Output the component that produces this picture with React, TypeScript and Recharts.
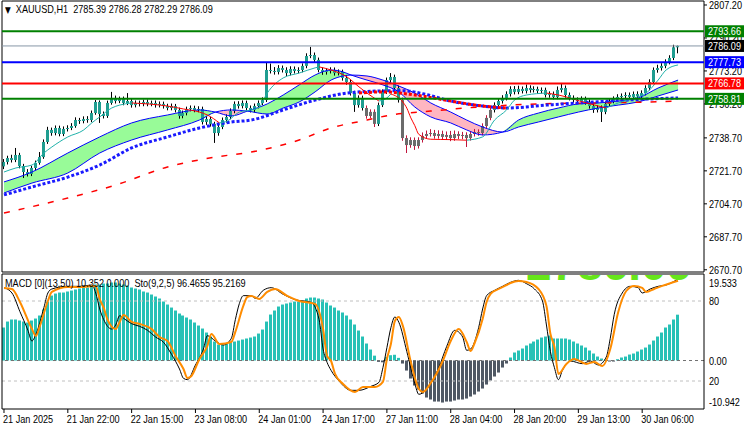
import React from 'react';
import { ComposedChart, Bar, Line, Area, XAxis, YAxis, ReferenceLine } from 'recharts';

const FONT = "'Liberation Sans', Arial, sans-serif";
const SQUEEZE = 0.83;
const SLOTS = 176;

// ---------- header / legend values ----------
const symbolName = 'XAUUSD,H1';
const headerOHLC = [2785.39, 2786.28, 2782.29, 2786.09];
const macdName = 'MACD [0](13,50)';
const macdValues = ['10.352', '0.000'];
const stoName = 'Sto(9,2,5)';
const stoValues = ['96.4655', '95.2169'];
const bidWatermark = '2786.09';

// ---------- price candles (H1) ----------
const opens = [
  2724.0, 2726.3, 2728.3, 2727.3, 2729.9, 2724.2, 2721.1, 2720.1, 2723.2, 2725.8,
  2728.8, 2736.6, 2742.8, 2741.2, 2743.8, 2740.7, 2743.3, 2743.8, 2744.8, 2747.9,
  2747.4, 2748.4, 2747.9, 2751.5, 2757.2, 2751.0, 2750.0, 2756.7, 2759.3, 2757.7,
  2758.7, 2756.7, 2757.7, 2755.6, 2756.7, 2756.2, 2757.2, 2756.2, 2756.7, 2755.6,
  2756.2, 2755.1, 2754.1, 2755.1, 2753.1, 2750.0, 2751.5, 2753.6, 2754.1, 2753.1,
  2753.6, 2746.9, 2748.4, 2745.9, 2741.2, 2744.3, 2747.9, 2749.5, 2752.6, 2756.2,
  2755.1, 2756.7, 2754.1, 2753.1, 2755.1, 2756.7, 2758.2, 2773.7, 2773.2, 2772.7,
  2774.7, 2773.7, 2772.1, 2774.2, 2773.2, 2773.7, 2775.8, 2780.9, 2781.4, 2778.9,
  2773.7, 2772.7, 2773.2, 2773.7, 2772.1, 2772.7, 2769.6, 2767.5, 2761.8, 2755.6,
  2759.3, 2754.1, 2750.0, 2752.1, 2745.9, 2755.6, 2762.4, 2768.5, 2770.1, 2764.4,
  2758.2, 2738.6, 2735.0, 2737.6, 2734.5, 2737.6, 2739.7, 2740.7, 2741.2, 2739.7,
  2740.7, 2739.2, 2740.2, 2738.6, 2740.7, 2739.7, 2740.2, 2738.6, 2740.7, 2741.7,
  2741.2, 2744.8, 2749.0, 2753.1, 2755.6, 2757.7, 2759.3, 2761.3, 2763.9, 2762.4,
  2763.9, 2762.9, 2764.4, 2763.4, 2763.9, 2762.9, 2763.4, 2760.8, 2761.3, 2759.8,
  2763.4, 2764.4, 2760.8, 2759.3, 2758.2, 2757.7, 2758.7, 2757.2, 2755.1, 2753.1,
  2754.1, 2752.1, 2756.2, 2757.7, 2758.7, 2759.8, 2760.3, 2760.8, 2759.8, 2761.3,
  2760.3, 2761.8, 2764.4, 2767.5, 2773.7, 2774.7, 2775.8, 2777.8, 2779.9, 2785.39,
];
const highs = [
  2727.8, 2729.5, 2730.0, 2733.5, 2731.0, 2725.3, 2722.6, 2724.3, 2727.0, 2731.4,
  2737.9, 2744.4, 2744.0, 2745.1, 2745.0, 2744.6, 2745.2, 2746.3, 2749.3, 2749.0,
  2749.8, 2749.9, 2752.8, 2758.2, 2758.0, 2752.3, 2757.9, 2762.4, 2760.5, 2760.0,
  2760.0, 2761.8, 2758.9, 2758.0, 2757.9, 2758.4, 2758.5, 2757.9, 2758.0, 2757.5,
  2757.4, 2756.3, 2756.4, 2756.2, 2754.3, 2752.8, 2754.8, 2755.4, 2755.3, 2755.0,
  2754.8, 2749.8, 2749.6, 2747.0, 2745.6, 2749.2, 2750.8, 2753.9, 2757.5, 2757.6,
  2758.0, 2757.9, 2755.4, 2756.4, 2758.0, 2759.6, 2777.3, 2777.0, 2775.2, 2776.2,
  2776.0, 2775.1, 2775.6, 2775.5, 2775.1, 2777.1, 2782.3, 2785.6, 2782.7, 2780.1,
  2775.0, 2774.6, 2775.1, 2775.0, 2774.0, 2773.9, 2771.0, 2768.8, 2763.0, 2760.6,
  2760.5, 2755.4, 2753.4, 2753.4, 2756.9, 2763.7, 2769.8, 2772.1, 2771.3, 2765.7,
  2759.5, 2740.0, 2739.0, 2738.9, 2739.0, 2741.5, 2742.5, 2743.2, 2742.8, 2742.6,
  2742.4, 2742.0, 2742.3, 2742.5, 2742.1, 2741.8, 2741.6, 2742.2, 2743.3, 2743.1,
  2746.2, 2750.4, 2754.4, 2757.0, 2759.0, 2760.7, 2762.7, 2765.3, 2765.4, 2765.6,
  2765.2, 2766.2, 2765.8, 2765.3, 2765.1, 2764.7, 2764.6, 2762.7, 2762.6, 2765.2,
  2767.0, 2765.7, 2762.1, 2760.6, 2759.6, 2760.1, 2760.0, 2758.5, 2756.4, 2755.5,
  2755.4, 2757.5, 2759.0, 2760.1, 2761.2, 2761.6, 2762.2, 2762.1, 2762.6, 2762.7,
  2763.2, 2765.8, 2768.9, 2775.0, 2776.4, 2777.2, 2779.2, 2781.3, 2786.7, 2786.28,
];
const lows = [
  2722.6, 2725.0, 2726.0, 2726.2, 2723.0, 2718.0, 2718.8, 2719.0, 2722.0, 2724.9,
  2727.9, 2735.6, 2739.8, 2740.0, 2739.5, 2739.6, 2742.0, 2742.7, 2743.9, 2745.9,
  2746.2, 2746.5, 2746.8, 2750.6, 2746.4, 2748.7, 2749.0, 2755.8, 2756.4, 2756.6,
  2755.5, 2755.6, 2754.3, 2754.4, 2754.9, 2755.0, 2755.0, 2755.0, 2754.3, 2754.4,
  2753.8, 2752.9, 2752.9, 2751.8, 2748.6, 2748.8, 2750.3, 2752.4, 2751.9, 2751.9,
  2745.6, 2745.4, 2744.5, 2736.1, 2739.8, 2743.2, 2746.6, 2748.3, 2751.4, 2753.8,
  2753.9, 2752.8, 2751.8, 2751.9, 2753.9, 2755.5, 2757.2, 2771.9, 2771.3, 2771.4,
  2772.4, 2770.6, 2770.9, 2771.9, 2772.0, 2772.5, 2774.6, 2779.8, 2777.6, 2772.5,
  2771.2, 2771.3, 2771.9, 2770.8, 2770.9, 2768.2, 2766.1, 2760.5, 2752.1, 2754.3,
  2752.8, 2748.6, 2748.8, 2744.3, 2744.8, 2754.6, 2761.3, 2767.2, 2763.1, 2756.9,
  2737.2, 2730.9, 2733.6, 2732.5, 2733.2, 2736.3, 2738.3, 2739.4, 2738.3, 2738.3,
  2737.8, 2737.6, 2737.0, 2737.2, 2738.1, 2738.0, 2734.0, 2737.3, 2739.4, 2739.8,
  2740.0, 2743.6, 2747.8, 2751.8, 2754.3, 2756.4, 2758.0, 2760.0, 2761.1, 2761.2,
  2761.6, 2761.6, 2762.0, 2762.1, 2761.5, 2761.6, 2759.5, 2759.4, 2758.5, 2758.6,
  2762.1, 2759.4, 2758.0, 2756.9, 2756.3, 2756.5, 2755.8, 2753.8, 2751.6, 2751.8,
  2746.9, 2750.9, 2754.9, 2756.5, 2757.4, 2758.6, 2759.0, 2758.5, 2758.6, 2759.0,
  2759.1, 2760.6, 2763.2, 2766.4, 2772.3, 2773.4, 2774.6, 2776.6, 2778.8, 2782.29,
];
const closes = [
  2726.3, 2728.3, 2727.3, 2729.9, 2724.2, 2721.1, 2720.1, 2723.2, 2725.8, 2728.8,
  2736.6, 2742.8, 2741.2, 2743.8, 2740.7, 2743.3, 2743.8, 2744.8, 2747.9, 2747.4,
  2748.4, 2747.9, 2751.5, 2757.2, 2751.0, 2750.0, 2756.7, 2759.3, 2757.7, 2758.7,
  2756.7, 2757.7, 2755.6, 2756.7, 2756.2, 2757.2, 2756.2, 2756.7, 2755.6, 2756.2,
  2755.1, 2754.1, 2755.1, 2753.1, 2750.0, 2751.5, 2753.6, 2754.1, 2753.1, 2753.6,
  2746.9, 2748.4, 2745.9, 2741.2, 2744.3, 2747.9, 2749.5, 2752.6, 2756.2, 2755.1,
  2756.7, 2754.1, 2753.1, 2755.1, 2756.7, 2758.2, 2773.7, 2773.2, 2772.7, 2774.7,
  2773.7, 2772.1, 2774.2, 2773.2, 2773.7, 2775.8, 2780.9, 2781.4, 2778.9, 2773.7,
  2772.7, 2773.2, 2773.7, 2772.1, 2772.7, 2769.6, 2767.5, 2761.8, 2755.6, 2759.3,
  2754.1, 2750.0, 2752.1, 2745.9, 2755.6, 2762.4, 2768.5, 2770.1, 2764.4, 2758.2,
  2738.6, 2735.0, 2737.6, 2734.5, 2737.6, 2739.7, 2740.7, 2741.2, 2739.7, 2740.7,
  2739.2, 2740.2, 2738.6, 2740.7, 2739.7, 2740.2, 2738.6, 2740.7, 2741.7, 2741.2,
  2744.8, 2749.0, 2753.1, 2755.6, 2757.7, 2759.3, 2761.3, 2763.9, 2762.4, 2763.9,
  2762.9, 2764.4, 2763.4, 2763.9, 2762.9, 2763.4, 2760.8, 2761.3, 2759.8, 2763.4,
  2764.4, 2760.8, 2759.3, 2758.2, 2757.7, 2758.7, 2757.2, 2755.1, 2753.1, 2754.1,
  2752.1, 2756.2, 2757.7, 2758.7, 2759.8, 2760.3, 2760.8, 2759.8, 2761.3, 2760.3,
  2761.8, 2764.4, 2767.5, 2773.7, 2774.7, 2775.8, 2777.8, 2779.9, 2785.39, 2786.09,
];

// ---------- moving averages [barIndex, price] ----------
const fastMaPts = [
  [0, 2721.1], [3, 2723.2], [7, 2724.7], [10, 2730.9], [12, 2734.0], [16, 2739.2], [20, 2742.8],
  [22, 2746.4], [24, 2749.5], [27, 2754.1], [29, 2755.6], [32, 2756.7], [41, 2755.1], [45, 2753.6],
  [49, 2752.0], [51, 2750.5], [54, 2746.4], [56, 2747.4], [59, 2752.0], [62, 2753.1], [64, 2754.6],
  [66, 2761.8], [70, 2769.6], [74, 2772.1], [78, 2774.8], [79, 2775.3], [82, 2773.7], [86, 2770.1],
  [89, 2765.0], [91, 2761.8], [94, 2757.7], [96, 2759.3], [97, 2761.3], [100, 2757.2], [101, 2754.0],
  [102, 2749.0], [103, 2745.0], [104, 2740.5], [107, 2738.0], [112, 2737.8], [116, 2737.5],
  [120, 2739.2], [123, 2747.9], [126, 2753.1], [128, 2758.2], [131, 2760.8], [136, 2761.8],
  [139, 2760.8], [146, 2756.7], [151, 2754.1], [154, 2756.7], [158, 2759.3], [161, 2761.8],
  [164, 2768.5], [166, 2773.7], [169, 2776.3],
];
// [barIndex, fast ribbon line, slow ribbon line]
const ribbonPts = [
  [0, 2716.0, 2710.3], [7, 2721.1, 2715.4], [16, 2730.9, 2720.6], [24, 2739.2, 2730.9],
  [32, 2746.4, 2737.6], [41, 2750.5, 2742.8], [49, 2753.1, 2747.9], [53, 2752.0, 2752.0],
  [57, 2750.0, 2753.1], [61, 2752.5, 2752.5], [66, 2756.2, 2751.0], [70, 2760.8, 2754.1],
  [74, 2766.0, 2757.2], [78, 2771.1, 2762.4], [82, 2773.7, 2768.5], [85, 2772.7, 2770.6],
  [87, 2771.1, 2771.1], [91, 2768.5, 2770.6], [95, 2766.0, 2768.5], [99, 2762.4, 2765.4],
  [103, 2754.6, 2761.8], [107, 2749.5, 2756.7], [112, 2746.4, 2752.0], [116, 2742.8, 2747.9],
  [120, 2740.2, 2744.3], [125, 2741.7, 2741.7], [129, 2747.9, 2744.3], [134, 2751.5, 2746.9],
  [139, 2754.1, 2749.5], [144, 2756.2, 2752.0], [149, 2756.7, 2754.1], [154, 2757.7, 2755.6],
  [159, 2759.3, 2757.2], [164, 2764.4, 2760.3], [169, 2768.5, 2763.4],
];
const blueDotPts = [
  [0, 2709.3], [7, 2713.4], [16, 2718.5], [24, 2724.7], [32, 2733.5], [41, 2739.2], [49, 2743.8],
  [57, 2746.9], [62, 2747.9], [70, 2753.1], [78, 2758.2], [86, 2761.8], [95, 2762.9], [100, 2763.0],
  [106, 2761.0], [112, 2757.7], [120, 2755.1], [126, 2754.1], [136, 2755.6], [144, 2756.7],
  [152, 2757.7], [161, 2758.7], [169, 2759.3],
];
const redDotPts = [[89, 2761.8], [95, 2762.4], [103, 2760.8], [112, 2757.7], [120, 2755.1], [126, 2754.1]];
const longMaPts = [
  [0, 2700.0], [16, 2707.7], [28, 2714.4], [41, 2723.7], [53, 2728.8], [62, 2731.4], [74, 2737.6],
  [82, 2743.8], [91, 2747.9], [97, 2750.5], [107, 2752.5], [119, 2754.6], [134, 2756.2],
  [149, 2756.7], [162, 2757.2], [169, 2757.7],
];

// ---------- horizontal levels ----------
const levelValues = [2793.66, 2786.09, 2777.73, 2766.78, 2758.81];

// ---------- MACD histogram ----------
const macdHist = [
  7.45, 8.80, 9.26, 9.26, 9.03, 8.80, 8.58, 9.03, 9.48, 10.16,
  11.51, 13.32, 14.67, 15.12, 15.35, 15.35, 15.58, 15.80, 16.03, 16.25,
  16.48, 16.48, 16.70, 17.16, 17.16, 17.38, 17.38, 17.61, 17.61, 17.38,
  17.16, 16.93, 16.48, 16.25, 16.03, 15.58, 15.35, 14.90, 14.45, 14.00,
  13.32, 12.64, 11.96, 11.29, 10.61, 10.16, 9.71, 9.26, 8.58, 7.90,
  7.22, 6.32, 5.42, 4.29, 3.61, 3.61, 3.84, 4.06, 4.29, 4.51,
  4.74, 4.97, 5.19, 5.42, 6.09, 7.00, 8.80, 10.38, 11.29, 12.19,
  12.64, 12.87, 13.09, 13.32, 13.32, 13.54, 14.00, 14.22, 14.22, 14.00,
  13.77, 13.09, 12.42, 11.96, 11.29, 10.84, 10.16, 9.26, 8.13, 6.77,
  5.42, 3.84, 2.48, 1.10, -0.30, -0.40, 0.80, 1.20, 1.30, 0.60,
  -0.68, -2.26, -4.06, -5.64, -6.55, -7.45, -8.35, -8.80, -9.26, -9.26,
  -9.48, -9.26, -9.26, -9.03, -8.80, -8.80, -8.58, -8.13, -7.67, -7.00,
  -6.32, -5.42, -4.51, -3.61, -2.71, -1.58, -0.68, 0.68, 1.81, 2.26,
  2.71, 3.39, 3.84, 4.29, 4.74, 5.19, 5.42, 5.64, 4.97, 4.97,
  4.97, 4.97, 4.74, 4.29, 3.84, 3.39, 2.93, 2.26, 1.58, 0.90,
  0.45, 0.20, -0.20, -0.20, 0.30, 0.68, 0.90, 1.35, 1.58, 2.03,
  2.48, 2.93, 3.61, 4.51, 5.42, 6.32, 7.45, 8.13, 9.26, 10.35,
];
const macdDomain = [-10.942, 19.533];

// ---------- Stochastic [barIndex, value] ----------
const stoMainPts = [
  [0, 90], [2, 86], [4, 72], [6, 58], [7, 50], [8, 55], [10, 75], [11, 86], [12, 89], [16, 91],
  [19, 91], [22, 92], [23, 86], [24, 74], [25, 66], [27, 59], [28, 62], [29, 69], [30, 67], [32, 63],
  [34, 61], [36, 58], [38, 53], [40, 49], [42, 40], [44, 29], [45, 22], [46, 21], [48, 32], [50, 44],
  [51, 54], [53, 50], [55, 47], [57, 52], [58, 66], [59, 78], [60, 84], [62, 84], [63, 82], [65, 88],
  [67, 90], [70, 85], [73, 81], [77, 79], [79, 66], [80, 44], [81, 34], [82, 28], [84, 20], [87, 13],
  [89, 13], [92, 16], [94, 19], [95, 30], [96, 45], [97, 60], [98, 68], [99, 64], [101, 42], [103, 18],
  [104, 10], [106, 14], [109, 30], [111, 46], [113, 58], [115, 53], [116, 43], [117, 44], [119, 60],
  [120, 74], [121, 84], [123, 88], [125, 91], [127, 94], [129, 95.5], [131, 93], [133, 89], [135, 80],
  [136, 62], [137, 42], [138, 30], [139, 21], [140, 28], [142, 35], [145, 33], [147, 35], [149, 32],
  [151, 38], [152, 52], [153, 70], [155, 86], [157, 91], [159, 90], [160, 86], [162, 89], [164, 91],
  [166, 92], [169, 96.5],
];
const stoSignalPts = [
  [0, 89.8], [2, 89], [4, 79.3], [7, 59], [8, 53.8], [9, 61.3], [11, 80], [12, 86.8], [16, 90.5],
  [19, 90.5], [23, 91.3], [24, 81.5], [25, 74.8], [26, 65.8], [28, 59], [29, 64.3], [30, 69.5],
  [32, 64.3], [34, 62.8], [37, 59], [39, 53], [41, 50], [43, 38.8], [45, 29], [46, 22.3], [47, 23.8],
  [49, 36.5], [51, 46.3], [52, 55.3], [54, 47.8], [57, 49.3], [58, 56.8], [60, 76.3], [61, 83],
  [62, 83.8], [64, 81.5], [66, 86.8], [68, 89], [71, 83.8], [74, 80], [78, 77.8], [80, 59], [81, 38.8],
  [82, 35], [83, 25.3], [85, 17.8], [88, 11.8], [90, 15.5], [93, 15.5], [95, 19.3], [96, 36.5],
  [97, 47.8], [98, 65], [99, 68], [100, 61.3], [102, 34.3], [104, 14], [105, 11.8], [107, 18.5],
  [110, 35], [112, 50], [114, 59], [116, 49.3], [117, 42.5], [118, 48.5], [120, 66.5], [121, 79.3],
  [122, 85.3], [124, 89], [126, 92], [127, 93.5], [129, 95], [131, 94.3], [134, 89], [136, 76.3],
  [137, 55.3], [138, 45.5], [139, 25.3], [141, 32.8], [143, 36.5], [146, 32.8], [148, 34.3],
  [150, 31.3], [152, 44], [154, 71.8], [156, 87.5], [158, 91.3], [160, 89.8], [161, 86.8], [163, 89],
  [165, 91.3], [169, 95.2],
];
const stoLevels = [80, 20];

// ---------- axes ----------
const priceTicks = [2807.2, 2790.2, 2773.2, 2756.2, 2738.7, 2721.7, 2704.7, 2687.7, 2670.7];
const priceDomain = [2669.56, 2809.26];
const xLabels = [
  '21 Jan 2025', '21 Jan 22:00', '22 Jan 15:00', '23 Jan 08:00', '24 Jan 01:00', '24 Jan 17:00',
  '27 Jan 11:00', '28 Jan 04:00', '28 Jan 20:00', '29 Jan 13:00', '30 Jan 06:00',
];
const X_LABEL_STEP = 16;

// ---------- styles ----------
const levelLineColors = ['#008000', '#8796a6', '#0000ff', '#ff0000', '#008000'];
const levelTagColors = ['#008000', '#000000', '#0000ff', '#ff0000', '#008000'];
const levelLineWidths = [2, 1, 2, 2, 2];
const grayCandleRanges = [[91, 93], [100, 122]];
const BULL = '#1f9d90';
const BEAR = '#6b6b6b';
const HIST_UP = '#27c1b6';
const HIST_DN = '#4f5864';
const RIB_UP = '#98fb98';
const RIB_DN = '#ffb6c1';

// ---------- build table ----------
const rows: any[] = Array.from({ length: SLOTS }, (_, i) => ({ i }));
closes.forEach((c, i) => {
  rows[i].candle = [lows[i], highs[i]];
  rows[i].o = opens[i];
  rows[i].h = highs[i];
  rows[i].l = lows[i];
  rows[i].c = c;
  rows[i].macd = macdHist[i];
});
const put = (pts: number[][], key: string) => pts.forEach((p) => (rows[p[0]][key] = p[1]));
put(blueDotPts, 'blueDot');
put(redDotPts, 'redDot');
put(longMaPts, 'longMa');
put(stoMainPts, 'stoMain');
put(stoSignalPts, 'stoSig');
ribbonPts.forEach((p) => {
  rows[p[0]].ribA = p[1];
  rows[p[0]].ribB = p[2];
});

type Seg = { key: string; color: string };
const fastSegs: Seg[] = [];
{
  let k = 0;
  while (k < fastMaPts.length - 1) {
    const up = fastMaPts[k + 1][1] >= fastMaPts[k][1];
    let e = k + 1;
    while (e < fastMaPts.length - 1 && (fastMaPts[e + 1][1] >= fastMaPts[e][1]) === up) e++;
    const key = 'fast' + fastSegs.length;
    for (let m = k; m <= e; m++) rows[fastMaPts[m][0]][key] = fastMaPts[m][1];
    fastSegs.push({ key, color: up ? '#20b2aa' : '#ff0000' });
    k = e;
  }
}
const ribSegs: Seg[] = [];
{
  const sgn = (m: number) => ribbonPts[m][1] + ribbonPts[m + 1][1] >= ribbonPts[m][2] + ribbonPts[m + 1][2];
  let k = 0;
  while (k < ribbonPts.length - 1) {
    const s = sgn(k);
    let e = k + 1;
    while (e < ribbonPts.length - 1 && sgn(e) === s) e++;
    const key = 'rib' + ribSegs.length;
    for (let m = k; m <= e; m++) rows[ribbonPts[m][0]][key] = [ribbonPts[m][2], ribbonPts[m][1]];
    ribSegs.push({ key, color: s ? RIB_UP : RIB_DN });
    k = e;
  }
}

const isGray = (i: number) => grayCandleRanges.some(([a, b]) => i >= a && i <= b);

// ---------- text helper (narrow terminal-like lettering) ----------
const T = ({ x, y, fill = '#000', children }: any) => (
  <text transform={`translate(${x},${y}) scale(${SQUEEZE},1)`} fill={fill} fontSize={11} fontFamily={FONT}>
    {children}
  </text>
);

// ---------- shapes ----------
const CandleShape = (p: any) => {
  const { x, y, width, height, payload } = p;
  if (!payload || payload.h == null) return null;
  const top = Math.min(y, y + height);
  const hh = Math.abs(height);
  const span = payload.h - payload.l || 1;
  const toY = (v: number) => top + ((payload.h - v) / span) * hh;
  const cx = Math.floor(x + width / 2);
  const y1 = Math.min(toY(payload.o), toY(payload.c));
  const y2 = Math.max(toY(payload.o), toY(payload.c));
  const gray = isGray(payload.i);
  return (
    <g>
      <line x1={cx + 0.5} x2={cx + 0.5} y1={top} y2={top + hh} stroke={gray ? '#c0143c' : '#000'} strokeWidth={1} />
      <rect x={cx - 1} y={y1} width={3} height={Math.max(1, y2 - y1)} fill={gray ? BEAR : BULL} />
    </g>
  );
};

const HistShape = (p: any) => {
  const { x, y, width, height, payload } = p;
  if (!payload || payload.macd == null) return null;
  const top = Math.min(y, y + height);
  const hh = Math.max(1, Math.abs(height));
  const cx = Math.floor(x + width / 2);
  return <rect x={cx - 1} y={top} width={3} height={hh} fill={payload.macd >= 0 ? HIST_UP : HIST_DN} />;
};

const LevelTag = (props: any) => {
  const vb = props.viewBox || {};
  const lx = (vb.x || 0) + (vb.width || 0) + 1;
  const ly = vb.y || 0;
  return (
    <g>
      <rect x={lx} y={ly - 6} width={39} height={12} fill={props.bg} />
      <T x={lx + 3} y={ly + 4} fill="#fff">
        {props.value.toFixed(2)}
      </T>
    </g>
  );
};

const SideLabel = (props: any) => {
  const vb = props.viewBox || {};
  return (
    <T x={(vb.x || 0) + (vb.width || 0) + 5} y={(vb.y || 0) + 4}>
      {props.text}
    </T>
  );
};

const PriceTick = (p: any) => (
  <T x={p.x} y={p.y + 4}>
    {Number(p.payload.value).toFixed(2)}
  </T>
);

const MacdTick = (p: any) => {
  const v = p.payload.value;
  const dy = v === macdDomain[1] ? 13 : v === macdDomain[0] ? -3 : 4;
  const txt = v === 0 ? '0.00' : String(v);
  return (
    <T x={p.x} y={p.y + dy}>
      {txt}
    </T>
  );
};

const TimeTick = (p: any) => {
  const v = p.payload.value;
  if (v % X_LABEL_STEP !== 0) return null;
  const label = xLabels[v / X_LABEL_STEP];
  if (!label) return null;
  return (
    <T x={p.x - 1} y={p.y + 8}>
      {label}
    </T>
  );
};

const noAnim = { isAnimationActive: false };
const narrowHtml: React.CSSProperties = {
  position: 'absolute',
  fontSize: 11,
  whiteSpace: 'pre',
  color: '#000',
  lineHeight: '13px',
  transform: `scaleX(${SQUEEZE})`,
  transformOrigin: 'left top',
  fontFamily: FONT,
};

const MAIN_H = 276;
const MAIN_MARGIN = { top: 0, right: 0, bottom: 3, left: 0 };

export default function App() {
  return (
    <div style={{ position: 'absolute', left: 0, top: 0, width: 750, height: 430, background: '#fff', fontFamily: FONT }}>
      <div style={{ position: 'absolute', left: 0, top: 0 }}>
        <ComposedChart width={750} height={MAIN_H} data={rows} margin={MAIN_MARGIN} barCategoryGap={0}>
          <XAxis dataKey="i" height={1} tick={false} tickLine={false} axisLine={{ stroke: '#000' }} />
          <XAxis xAxisId="top" dataKey="i" orientation="top" height={1} tick={false} tickLine={false} axisLine={{ stroke: '#000' }} />
          <YAxis yAxisId="border" orientation="left" width={2} tick={false} tickLine={false} axisLine={{ stroke: '#000' }} domain={[0, 1]} />
          <YAxis
            yAxisId="price"
            orientation="right"
            width={46}
            type="number"
            domain={priceDomain}
            allowDataOverflow
            ticks={priceTicks}
            interval={0}
            tickSize={3}
            tickMargin={2}
            tick={(p: any) => <PriceTick {...p} />}
            axisLine={{ stroke: '#000' }}
            tickLine={{ stroke: '#000' }}
          />
          {ribSegs.map((s) => (
            <Area key={s.key} yAxisId="price" dataKey={s.key} type="monotone" fill={s.color} fillOpacity={1} stroke="none" connectNulls dot={false} activeDot={false} {...noAnim} />
          ))}
          <Line yAxisId="price" dataKey="ribA" type="monotone" stroke="#0000ff" strokeWidth={1} dot={false} activeDot={false} connectNulls {...noAnim} />
          <Line yAxisId="price" dataKey="ribB" type="monotone" stroke="#0000ff" strokeWidth={1} dot={false} activeDot={false} connectNulls {...noAnim} />
          <Line yAxisId="price" dataKey="longMa" type="monotone" stroke="#ff0000" strokeWidth={1.5} strokeDasharray="6 9" dot={false} activeDot={false} connectNulls {...noAnim} />
          <Bar yAxisId="price" dataKey="candle" barSize={3} shape={(p: any) => <CandleShape {...p} />} {...noAnim} />
          <Line yAxisId="price" dataKey="blueDot" type="monotone" stroke="#1a1aff" strokeWidth={3} strokeDasharray="3 2" dot={false} activeDot={false} connectNulls {...noAnim} />
          <Line yAxisId="price" dataKey="redDot" type="monotone" stroke="#ff0000" strokeWidth={3} strokeDasharray="3 2" dot={false} activeDot={false} connectNulls {...noAnim} />
          {fastSegs.map((s) => (
            <Line key={s.key} yAxisId="price" dataKey={s.key} type="monotone" stroke={s.color} strokeWidth={1} dot={false} activeDot={false} connectNulls {...noAnim} />
          ))}
        </ComposedChart>
      </div>
      {/* level lines + price tags, drawn above the price scale */}
      <div style={{ position: 'absolute', left: 0, top: 0 }}>
        <ComposedChart width={750} height={MAIN_H} data={rows} margin={MAIN_MARGIN} barCategoryGap={0}>
          <XAxis dataKey="i" height={1} tick={false} tickLine={false} axisLine={false} />
          <XAxis xAxisId="top" dataKey="i" orientation="top" height={1} tick={false} tickLine={false} axisLine={false} />
          <YAxis yAxisId="border" orientation="left" width={2} tick={false} tickLine={false} axisLine={false} domain={[0, 1]} />
          <YAxis yAxisId="price" orientation="right" width={46} type="number" domain={priceDomain} allowDataOverflow tick={false} tickLine={false} axisLine={false} />
          {levelValues.map((v, k) => (
            <ReferenceLine
              key={v}
              yAxisId="price"
              y={v}
              stroke={levelLineColors[k]}
              strokeWidth={levelLineWidths[k]}
              label={(lp: any) => <LevelTag viewBox={lp.viewBox} value={v} bg={levelTagColors[k]} />}
            />
          ))}
        </ComposedChart>
      </div>
      <div style={{ position: 'absolute', left: 0, top: 273 }}>
        <ComposedChart width={750} height={156} data={rows} margin={{ top: 0, right: 0, bottom: 0, left: 0 }} barCategoryGap={0}>
          <XAxis xAxisId="top" dataKey="i" orientation="top" height={1} tick={false} tickLine={false} axisLine={{ stroke: '#000' }} />
          <XAxis dataKey="i" height={20} interval={X_LABEL_STEP - 1} tickSize={4} tickMargin={2} tick={(p: any) => <TimeTick {...p} />} tickLine={{ stroke: '#000' }} axisLine={{ stroke: '#000' }} />
          <YAxis yAxisId="border" orientation="left" width={2} tick={false} tickLine={false} axisLine={{ stroke: '#000' }} domain={[0, 1]} />
          <YAxis
            yAxisId="macd"
            orientation="right"
            width={46}
            type="number"
            domain={macdDomain}
            allowDataOverflow
            ticks={[macdDomain[1], 0, macdDomain[0]]}
            interval={0}
            tickSize={3}
            tickMargin={2}
            tick={(p: any) => <MacdTick {...p} />}
            axisLine={{ stroke: '#000' }}
            tickLine={false}
          />
          <YAxis yAxisId="sto" hide type="number" domain={[-1, 100.25]} allowDataOverflow />
          {stoLevels.map((v) => (
            <ReferenceLine key={v} yAxisId="sto" y={v} stroke="#c0c0c0" strokeDasharray="3 3" label={(lp: any) => <SideLabel viewBox={lp.viewBox} text={String(v)} />} />
          ))}
          <ReferenceLine yAxisId="macd" y={0} stroke="#707070" strokeDasharray="3 3" />
          <Bar yAxisId="macd" dataKey="macd" barSize={3} shape={(p: any) => <HistShape {...p} />} {...noAnim} />
          <Line yAxisId="sto" dataKey="stoMain" type="monotone" stroke="#000" strokeWidth={1} dot={false} activeDot={false} connectNulls {...noAnim} />
          <Line yAxisId="sto" dataKey="stoSig" type="monotone" stroke="#ff8c00" strokeWidth={2} dot={false} activeDot={false} connectNulls {...noAnim} />
        </ComposedChart>
      </div>
      {/* large bid-price label whose lower edge peeks into the indicator window */}
      <div style={{ position: 'absolute', left: 526, top: 275, width: 176, height: 5, overflow: 'hidden' }}>
        <div style={{ position: 'absolute', left: 0, top: -34, fontSize: 46, lineHeight: '46px', fontWeight: 'bold', color: '#66e61a', fontFamily: FONT, whiteSpace: 'pre' }}>
          {bidWatermark}
        </div>
      </div>
      <div style={{ ...narrowHtml, left: 5, top: 3 }}>
        <span style={{ fontSize: 9, fontFamily: 'DejaVu Sans' }}>{'\u25BC'}</span>
        {'  ' + symbolName + '  ' + headerOHLC.map((v) => v.toFixed(2)).join(' ')}
      </div>
      <div style={{ ...narrowHtml, left: 5, top: 277 }}>
        {macdName + ' ' + macdValues.join(' ') + '  ' + stoName + ' ' + stoValues.join(' ')}
      </div>
    </div>
  );
}
